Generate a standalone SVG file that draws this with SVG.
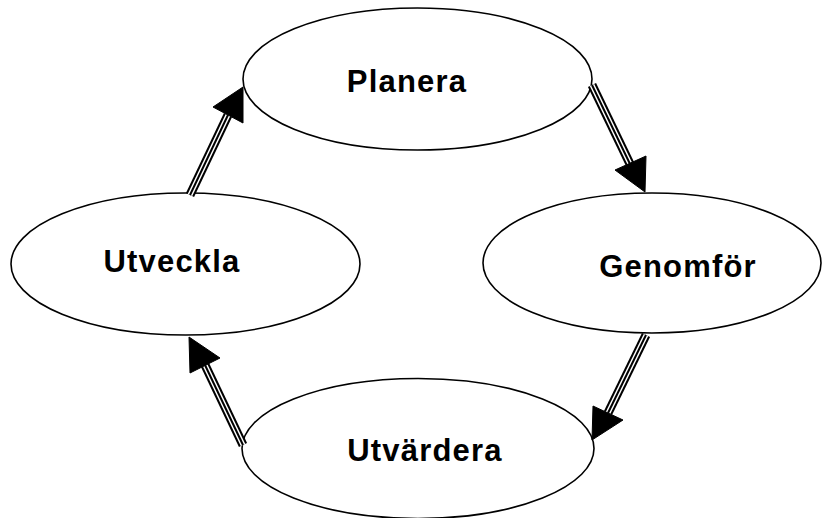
<svg xmlns="http://www.w3.org/2000/svg" width="823" height="518" viewBox="0 0 823 518">
<style>
.node ellipse{fill:#fff;stroke:#000;stroke-width:1.6}
.node text{font-family:"Liberation Sans",Arial,sans-serif;font-weight:bold;font-size:31px;letter-spacing:1.2px;fill:#000;text-anchor:middle}
.s1{stroke:#000;stroke-width:9;fill:none}
.s2{stroke:#fff;stroke-width:5;fill:none}
.s3{stroke:#000;stroke-width:2;fill:none}
.head{fill:#000;stroke:#000;stroke-width:1;stroke-linejoin:miter}
</style>
<rect width="823" height="518" fill="#fff"/>
<g id="node-planera" class="node">
<ellipse cx="417.5" cy="79" rx="174.5" ry="71"/>
<text x="407" y="92">Planera</text>
</g>
<g id="node-genomfor" class="node">
<ellipse cx="652" cy="263" rx="169" ry="70"/>
<text x="678" y="277">Genomför</text>
</g>
<g id="node-utvardera" class="node">
<ellipse cx="418" cy="448.5" rx="176" ry="70"/>
<text x="425" y="461">Utvärdera</text>
</g>
<g id="node-utveckla" class="node">
<ellipse cx="185.5" cy="264" rx="174.5" ry="71"/>
<text x="172" y="272">Utveckla</text>
</g>
<g id="connectors">
<g id="c1">
<path class="s1" d="M592,85 L630,164"/><path class="s2" d="M592,85 L630,164"/><path class="s3" d="M592,85 L630,164"/>
<polygon class="head" points="615,170 646,156 645,192"/>
</g>
<g id="c2">
<path class="s1" d="M190,195 L228,115"/><path class="s2" d="M190,195 L228,115"/><path class="s3" d="M190,195 L228,115"/>
<polygon class="head" points="213,107 243,123 243,87"/>
</g>
<g id="c3">
<path class="s1" d="M646,335 L608,413"/><path class="s2" d="M646,335 L608,413"/><path class="s3" d="M646,335 L608,413"/>
<polygon class="head" points="593,406 623,420 592,440"/>
</g>
<g id="c4">
<path class="s1" d="M243,445 L205,365"/><path class="s2" d="M243,445 L205,365"/><path class="s3" d="M243,445 L205,365"/>
<polygon class="head" points="190,373 220,358 189,337"/>
</g>
</g>
</svg>
